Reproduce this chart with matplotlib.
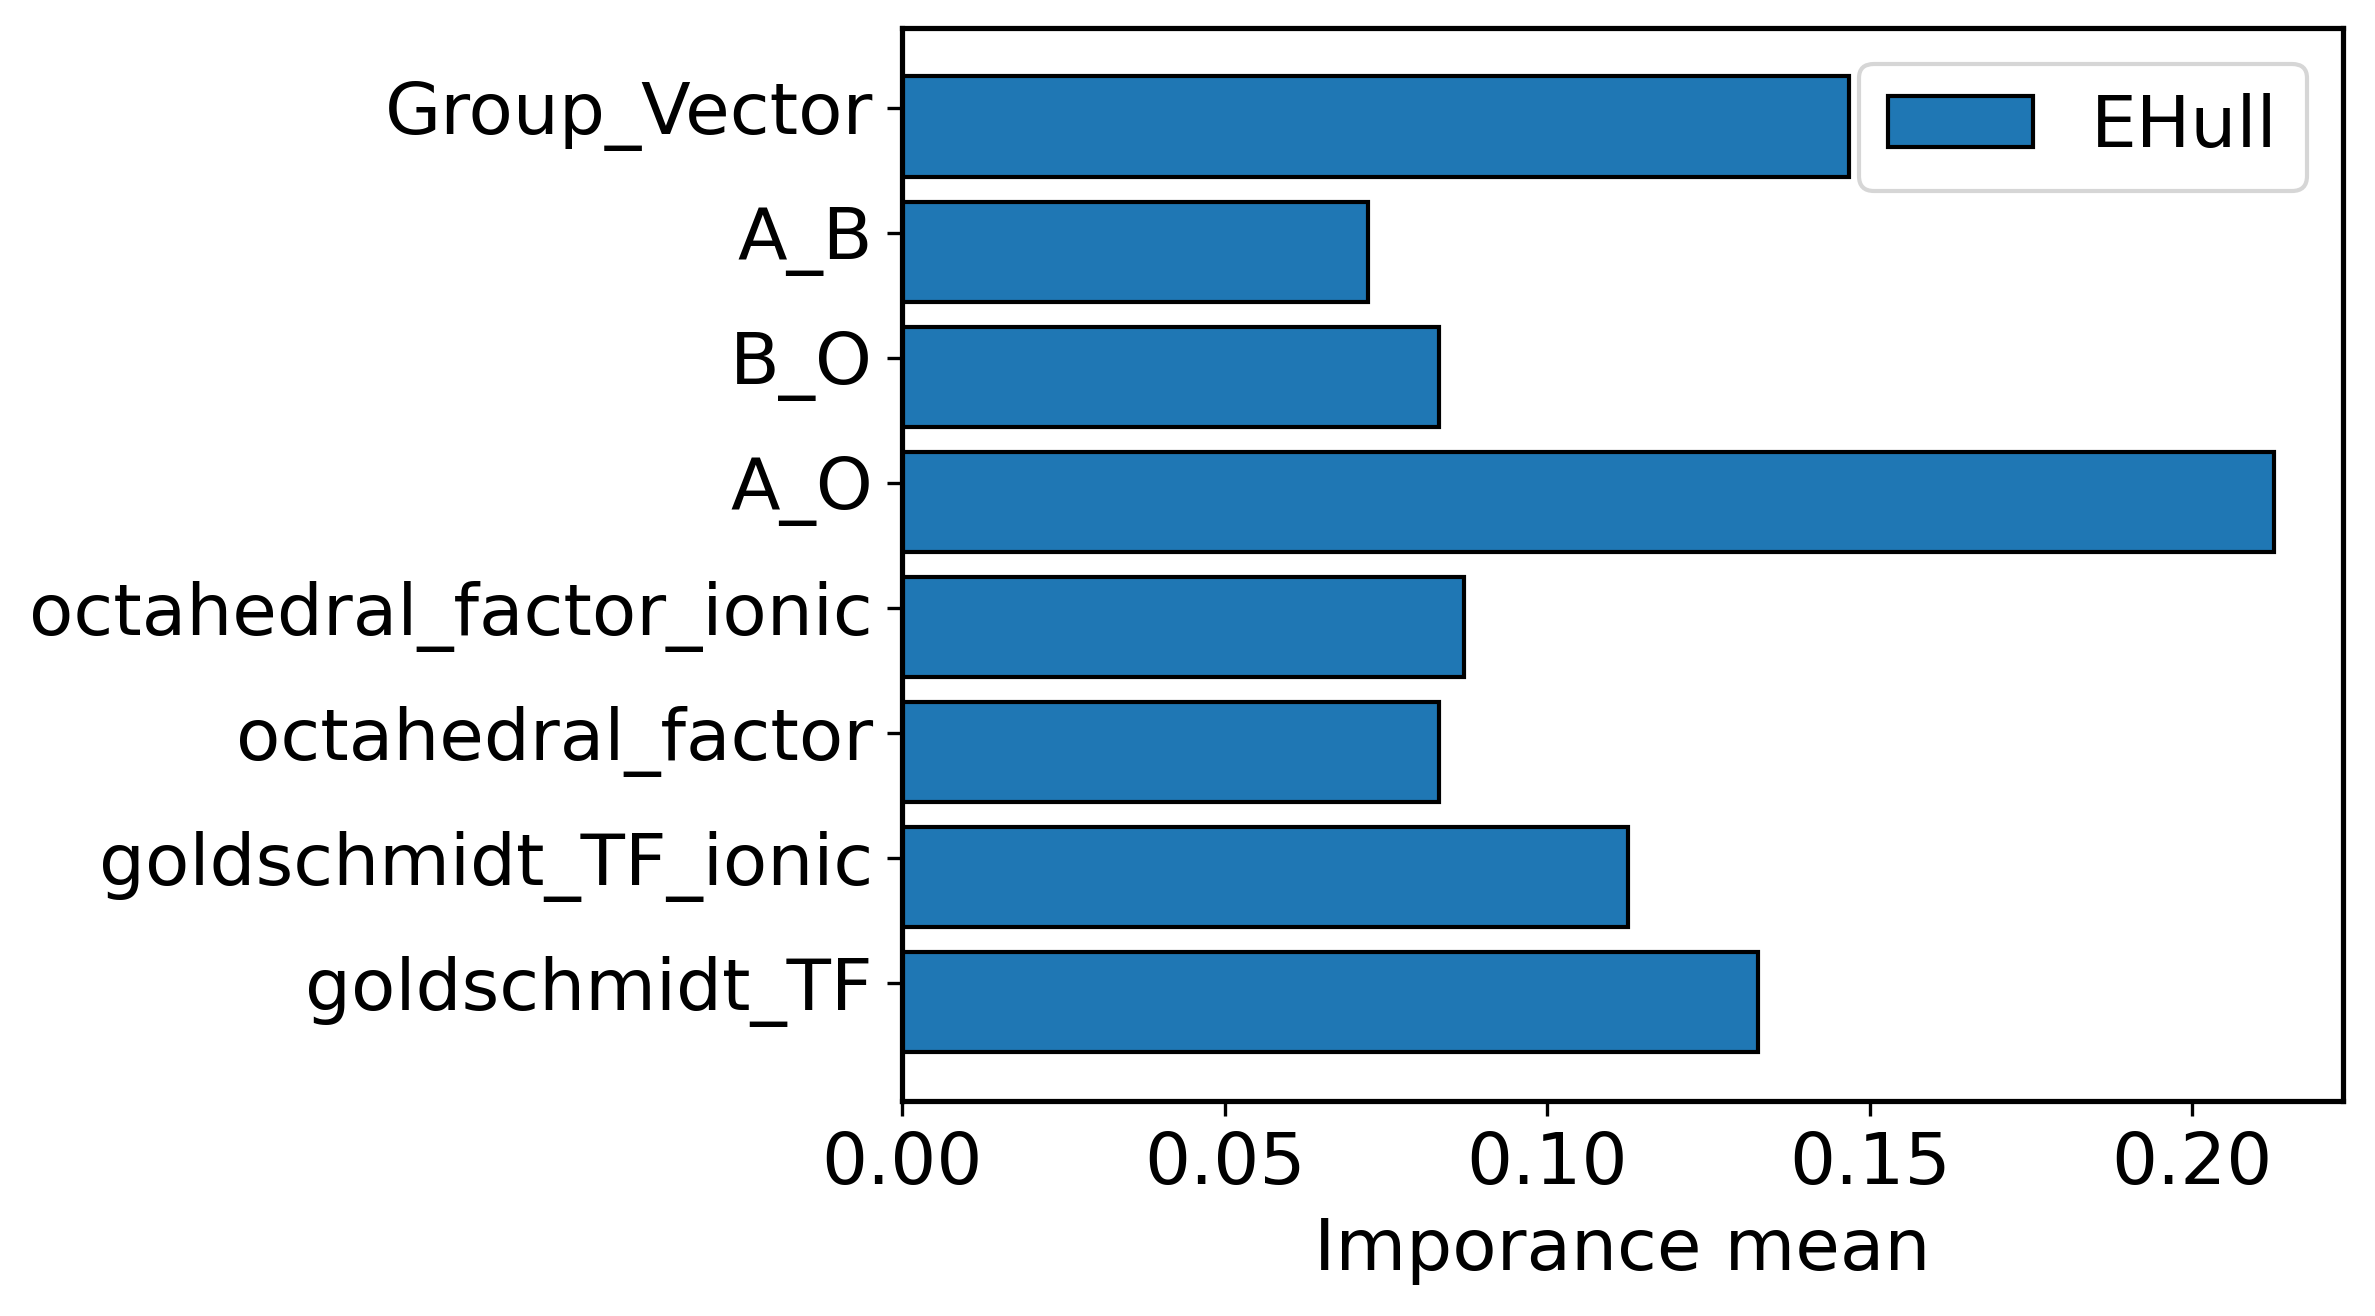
import matplotlib
matplotlib.use("Agg")
import numpy as np
import matplotlib.pyplot as plt

# feature importances (bottom to top)
features = ['goldschmidt_TF', 'goldschmidt_TF_ionic', 'octahedral_factor',
            'octahedral_factor_ionic', 'A_O', 'B_O', 'A_B', 'Group_Vector']
ehull_importance = [0.1326, 0.1126, 0.0832, 0.0871, 0.2127, 0.0832, 0.0723, 0.1467]

fs = 17.4
pos = np.arange(len(features))

fig = plt.figure(figsize=(2375 / 300, 1316 / 300), dpi=300)
ax = fig.add_axes([0.3798, 0.1634, 0.9865 - 0.3798, 0.979 - 0.1634])

# bars sit a little below the tick positions, as in the original
ax.barh(pos - 0.15, ehull_importance, height=0.8, color='#1f77b4',
        edgecolor='black', linewidth=1, label='EHull')
ax.set_yticks(pos, features)

ax.set_xlabel("Imporance mean", fontsize=fs)
ax.tick_params(axis='both', labelsize=fs)
ax.set_xticks([0.0, 0.05, 0.10, 0.15, 0.20])
for s in ax.spines.values():
    s.set_linewidth(1.25)
ax.legend(loc='upper right', fontsize=fs)

fig.savefig("out.png", dpi=300)
